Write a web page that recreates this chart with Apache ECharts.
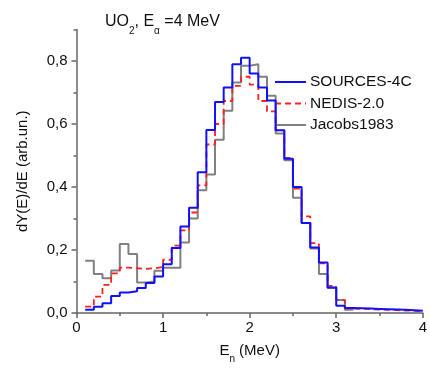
<!DOCTYPE html>
<html>
<head>
<meta charset="utf-8">
<script src="https://cdn.jsdelivr.net/npm/echarts@6/dist/echarts.min.js"></script>
<style>html,body{margin:0;padding:0;background:#fff;}#c{width:430px;height:371px;}</style>
</head>
<body>
<div id="c"></div>
<script>
// Bin edges (MeV), 0.1 MeV wide bins
const binEdges = [0.1,0.2,0.3,0.4,0.5,0.6,0.7,0.8,0.9,1.0,1.1,1.2,1.3,1.4,1.5,1.6,1.7,1.8,1.9,2.0,
                  2.1,2.2,2.3,2.4,2.5,2.6,2.7,2.8,2.9,3.0,3.1,3.2,3.3,3.4,3.5,3.6,3.7,3.8,3.9,4.0];
const sources4c = [0.010,0.020,0.031,0.054,0.065,0.069,0.079,0.095,0.116,0.155,
                   0.206,0.275,0.334,0.447,0.581,0.670,0.716,0.790,0.810,0.760,
                   0.716,0.675,0.580,0.490,0.400,0.286,0.208,0.160,0.081,0.023,
                   0.016,0.015,0.014,0.013,0.012,0.011,0.010,0.009,0.007];
const nedis = [0.020,0.052,0.089,0.126,0.144,0.142,0.140,0.142,0.146,0.169,
               0.214,0.262,0.319,0.405,0.535,0.600,0.673,0.721,0.750,0.725,
               0.673,0.640,0.580,0.492,0.395,0.307,0.222,0.158,0.086,0.041,
               0.014,0.013,0.012,0.011,0.010,0.009,0.008,0.007,0.006];
const jacobs = [0.166,0.124,0.110,0.135,0.219,0.187,0.097,0.100,0.134,0.144,
                0.144,0.224,0.300,0.390,0.440,0.550,0.642,0.732,0.785,0.790,
                0.750,0.690,0.570,0.485,0.366,0.286,0.205,0.124,0.079,0.041,
                0.010];
const seriesNames = ['SOURCES-4C','NEDIS-2.0','Jacobs1983'];
const seriesColors = ['#1010ff','#ff2020','#808080'];
const yMajorTicks = [0,0.2,0.4,0.6,0.8];
const yMinorTicks = [0.1,0.3,0.5,0.7,0.9];

function histo(vals){
  const d = vals.map((v,i)=>[binEdges[i], v]);
  d.push([binEdges[vals.length], vals[vals.length-1]]);
  return d;
}
const fmtX = v => String(+v.toFixed(1)).replace('.', ',');
const fmtY = v => (+v).toFixed(1).replace('.', ',');
const FONT = 'Liberation Sans, Arial, sans-serif';
const axisCol = '#666';
const lineStyles = [
  {color:seriesColors[0], width:2},
  {color:seriesColors[1], width:1.8, type:[6,4]},
  {color:seriesColors[2], width:2}
];

// manual legend (lines + real text)
const legendGraphics = [];
seriesNames.forEach((name,i)=>{
  const y = 82 + 21.5*i;
  legendGraphics.push({type:'line', shape:{x1:275,y1:y,x2:306,y2:y},
    style:{stroke:lineStyles[i].color, lineWidth:lineStyles[i].width, lineDash:lineStyles[i].type||null}});
  legendGraphics.push({type:'text', x:310, y:y,
    style:{text:name, font:'15.5px '+FONT, fill:'#111', textVerticalAlign:'middle', verticalAlign:'middle'}});
});

const chart = echarts.init(document.getElementById('c'), null, {renderer:'canvas'});
chart.setOption({
  animation:false,
  backgroundColor:'#fff',
  title:{
    left:100, top:9,
    text:'{a|UO}{s|2}{a|, E}{s|α}{a| =4 MeV}',
    textStyle:{
      rich:{
        a:{fontFamily:FONT,fontSize:16,fontWeight:'normal',color:'#111',verticalAlign:'top',lineHeight:18},
        s:{fontFamily:FONT,fontSize:10,fontWeight:'normal',color:'#111',verticalAlign:'top',lineHeight:10,padding:[12,0,0,0]}
      }
    }
  },
  graphic:legendGraphics,
  grid:{left:76.5, right:6.7, top:29.5, bottom:58, containLabel:false},
  xAxis:{
    type:'value', min:0, max:4, interval:1,
    name:'{a|E}{s|n}{a| (MeV)}', nameLocation:'middle', nameGap:30,
    nameTextStyle:{rich:{
      a:{fontFamily:FONT,fontSize:15,color:'#111',verticalAlign:'top',lineHeight:17},
      s:{fontFamily:FONT,fontSize:10,color:'#111',verticalAlign:'top',lineHeight:10,padding:[11,0,0,0]}
    }},
    axisLine:{show:true,onZero:false,lineStyle:{color:axisCol,width:1.5}},
    axisTick:{show:true,inside:false,length:5,lineStyle:{color:axisCol,width:1.5}},
    minorTick:{show:true,splitNumber:2,length:3,lineStyle:{color:axisCol,width:1.5}},
    axisLabel:{fontFamily:FONT,fontSize:15,color:'#111',margin:7,formatter:v=>fmtX(v)},
    splitLine:{show:false}
  },
  yAxis:[{
    type:'value', min:0, max:0.9,
    name:'dY(E)/dE (arb.un.)', nameLocation:'middle', nameGap:46,
    nameTextStyle:{fontFamily:FONT,fontSize:15,color:'#111'},
    axisLine:{show:true,onZero:false,lineStyle:{color:axisCol,width:1.5}},
    axisTick:{show:true,inside:false,length:5,customValues:yMajorTicks,lineStyle:{color:axisCol,width:1.5}},
    axisLabel:{fontFamily:FONT,fontSize:15,color:'#111',margin:9,customValues:yMajorTicks,formatter:v=>fmtY(v)},
    splitLine:{show:false}
  },{
    type:'value', min:0, max:0.9, position:'left',
    axisLine:{show:false},
    axisTick:{show:true,inside:false,length:3,customValues:yMinorTicks,lineStyle:{color:axisCol,width:1.5}},
    axisLabel:{show:false},
    splitLine:{show:false}
  }],
  series:[
    {name:seriesNames[0], type:'line', step:'end', data:histo(sources4c), showSymbol:false, symbol:'none', z:4,
     lineStyle:lineStyles[0], itemStyle:{color:seriesColors[0]}},
    {name:seriesNames[1], type:'line', step:'end', data:histo(nedis), showSymbol:false, symbol:'none', z:3,
     lineStyle:lineStyles[1], itemStyle:{color:seriesColors[1]}},
    {name:seriesNames[2], type:'line', step:'end', data:histo(jacobs), showSymbol:false, symbol:'none', z:2,
     lineStyle:lineStyles[2], itemStyle:{color:seriesColors[2]}}
  ]
});
</script>
</body>
</html>
